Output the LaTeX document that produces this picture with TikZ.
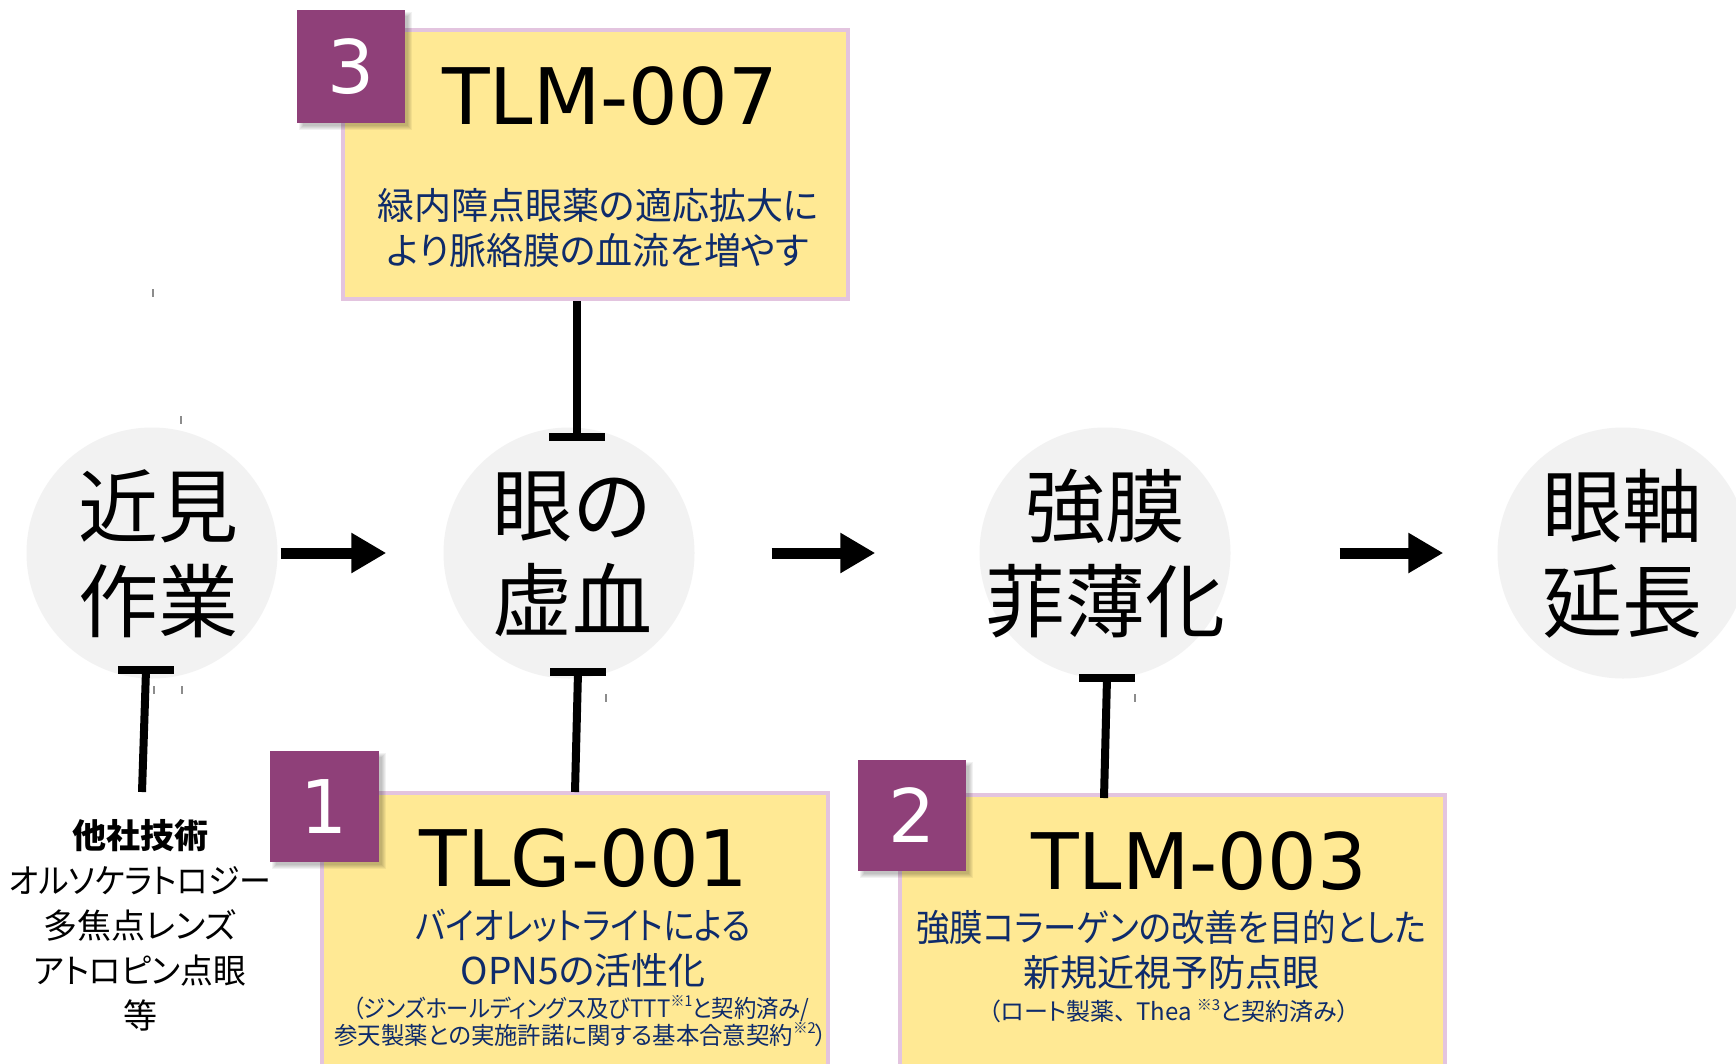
\documentclass[tikz,border=0pt]{standalone}
\usepackage{graphicx}
\usepackage{fontspec}
\setmainfont{Noto Sans CJK JP}
\newfontfamily\jp{Noto Sans CJK JP}[RawFeature=+palt]
\newfontfamily\jpc{Noto Sans CJK JP}
\newfontfamily\lat{DejaVu Sans}
\usetikzlibrary{arrows.meta}
\definecolor{purp}{HTML}{8F4079}
\definecolor{boxy}{HTML}{FFE994}
\definecolor{boxb}{HTML}{E3C4DF}
\definecolor{circ}{HTML}{F2F2F2}
\definecolor{navy}{HTML}{0E2B6B}
\newcommand{\myfs}[2]{\fontsize{#1}{#2}\selectfont}
\newcommand{\supx}[1]{\raisebox{0.45em}{\fontsize{15}{15}\selectfont #1}}
\newcommand{\hsc}[2]{\scalebox{#1}[1]{#2}}
\newcommand{\sqshadow}[4]{%
  \foreach \k in {0,...,4}{\fill[black,opacity=0.05] ({#1+6-\k},{#2+6-\k}) rectangle ({#3+3+\k},{#4+3+\k});}}
\tikzset{
  circnode/.style={circle, fill=circ, minimum size=251pt, inner sep=0pt},
  circtext/.style={font=\jpc\myfs{80}{95}, align=center, inner sep=0pt},
  numsq/.style={fill=purp, inner sep=0pt, text=white, font=\lat\myfs{74}{74}},
  ybox/.style={draw=boxb, line width=4pt, fill=boxy, inner sep=0pt},
  titletext/.style={font=\lat\myfs{78}{78}, inner sep=0pt},
  desc/.style={font=\jp\myfs{37}{45}, text=navy, align=center, inner sep=0pt},
  smalltext/.style={font=\jp\myfs{24}{27}, text=navy, align=center, inner sep=0pt},
  lefttext/.style={font=\jp\myfs{34}{45}, align=center, inner sep=0pt},
  bigarrow/.style={line width=11pt, -{Triangle[length=35pt,width=38pt]}},
  tline/.style={line width=8pt},
  tbar/.style={line width=8pt},
  tickline/.style={line width=1.2pt, draw=black!45},
}
\begin{document}
\begin{tikzpicture}[x=1pt,y=-1pt]
\useasboundingbox (0,0) rectangle (1736,1063);
\fill[white] (0,0) rectangle (1736,1063);
\clip (0,0) rectangle (1736,1063);

% circles
\node[circnode] (c1) at (152,553) {};
\node[circnode] (c2) at (569,553) {};
\node[circnode] (c3) at (1105,553) {};
\node[circnode] (c4) at (1623,553) {};
\node[circtext] (t1) at (158,554) {近見\\作業};
\node[circtext] (t2) at (572,554) {眼の\\虚血};
\node[circtext] (t3) at (1105,554) {強膜\\菲薄化};
\node[circtext] (t4) at (1622,554) {眼軸\\延長};

% arrows
\draw[bigarrow, shorten <=3pt, shorten >=57pt] (c1) -- (c2);
\draw[bigarrow, shorten <=77pt, shorten >=104pt] (c2) -- (c3);
\draw[bigarrow, shorten <=109pt, shorten >=54pt] (c3) -- (c4);

% box 3 (top)
\node[ybox, minimum width=505pt, minimum height=269pt] (box3) at (595.5,164.5) {};
\sqshadow{297}{10}{405}{123}
\node[numsq, minimum width=108pt, minimum height=113pt] (sq3) at (351,66.5) {3};
\node[titletext] (ti3) at (610,96) {TLM-007};
\node[desc] (d3) at (598,228) {緑内障点眼薬の適応拡大に\\より脈絡膜の血流を増やす};

% box 1
\node[ybox, minimum width=506pt, minimum height=280pt] (box1) at (575,933) {};
\sqshadow{270}{751}{379}{862}
\node[numsq, minimum width=109pt, minimum height=111pt] (sq1) at (324.5,806.5) {1};
\node[titletext] (ti1) at (584,858) {TLG-001};
\node[desc] (d1) at (583,948.5) {\hsc{0.87}{バイオレットライトによる}\\OPN5の活性化};
\node[smalltext] (s1) at (581,1021) {\hsc{0.93}{（ジンズホールディングス及びTTT\supx{※1}と契約済み/}\\\hsc{0.975}{参天製薬との実施許諾に関する基本合意契約\supx{※2}）}};

% box 2
\node[ybox, minimum width=545pt, minimum height=278pt] (box2) at (1172.5,934) {};
\sqshadow{858}{760}{966}{871}
\node[numsq, minimum width=108pt, minimum height=111pt] (sq2) at (912,815.5) {2};
\node[titletext] (ti2) at (1199,861) {TLM-003};
\node[desc] (d2) at (1171,950) {\hsc{0.905}{強膜コラーゲンの改善を目的とした}\\新規近視予防点眼};
\node[smalltext] (s2) at (1169,1011) {（ロート製薬、\hspace{0.4em}Thea \supx{※3}と契約済み）};

% left text
\node[lefttext] (other) at (140,925) {{\bfseries 他社技術}\\\hsc{0.94}{オルソケラトロジー}\\多焦点レンズ\\\hsc{0.965}{アトロピン点眼}\\等};

% inhibition connectors
\coordinate (a3s) at (577,301);
\coordinate (a3e) at (577,437);
\draw[tline] (a3s) -- (a3e);
\draw[tbar] ([xshift=-28pt]a3e) -- ([xshift=28pt]a3e);

\coordinate (a1s) at (142,792);
\coordinate (a1e) at (146,670);
\draw[tline] (a1s) -- (a1e);
\draw[tbar] ([xshift=-28pt]a1e) -- ([xshift=28pt]a1e);

\coordinate (b1s) at (575,792);
\coordinate (b1e) at (578,672);
\draw[tline] (b1s) -- (b1e);
\draw[tbar] ([xshift=-28pt]b1e) -- ([xshift=28pt]b1e);

\coordinate (b2s) at (1104,798);
\coordinate (b2e) at (1107,678);
\draw[tline] (b2s) -- (b2e);
\draw[tbar] ([xshift=-28pt]b2e) -- ([xshift=28pt]b2e);

% small ticks
\draw[tickline] (153,289) -- (153,297);
\draw[tickline] (181,416) -- (181,424);
\draw[tickline] (154,686) -- (154,694);
\draw[tickline] (182,686) -- (182,694);
\draw[tickline] (606,694) -- (606,702);
\draw[tickline] (1135,694) -- (1135,702);
\end{tikzpicture}
\end{document}
